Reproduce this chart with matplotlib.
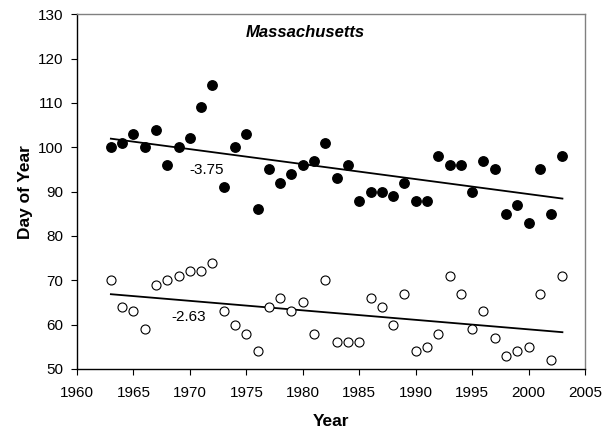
import numpy as np
import matplotlib
matplotlib.use('Agg')
import matplotlib.pyplot as plt
plt.rcParams['font.family'] = 'Liberation Sans'

years = list(range(1963, 2004))
# filled circles (upper series)
upper = [100, 101, 103, 100, 104, 96, 100, 102, 109, 114,
         91, 100, 103, 86, 95, 92, 94, 96, 97, 101,
         93, 96, 88, 90, 90, 89, 92, 88, 88, 98,
         96, 96, 90, 97, 95, 85, 87, 83, 95, 85, 98]
# open circles (lower series)
lower = [70, 64, 63, 59, 69, 70, 71, 72, 72, 74,
         63, 60, 58, 54, 64, 66, 63, 65, 58, 70,
         56, 56, 56, 66, 64, 60, 67, 54, 55, 58,
         71, 67, 59, 63, 57, 53, 54, 55, 67, 52, 71]
upper_label = '-3.75'
lower_label = '-2.63'

yrs = np.array(years, dtype=float)

fig = plt.figure(figsize=(6.05, 4.32), dpi=100)
ax = fig.add_axes([77/605, 1-369/432, (585-77)/605, (369-14.3)/432])

ax.plot(yrs, upper, 'o', color='black', markersize=6.8, zorder=3)
ax.plot(yrs, lower, 'o', markerfacecolor='white', markeredgecolor='black',
        markersize=6.5, markeredgewidth=0.8, zorder=3)

# trend lines
for vals in [upper, lower]:
    b, a = np.polyfit(yrs, vals, 1)
    xs = np.array([yrs[0], yrs[-1]])
    ax.plot(xs, a + b*xs, color='black', linewidth=1.3, zorder=2)

ax.text(1971.5, 94.9, upper_label, fontsize=11, ha='center', va='center')
ax.text(1969.9, 61.7, lower_label, fontsize=11, ha='center', va='center')
ax.text(1980.2, 125.8, 'Massachusetts', fontsize=12, fontweight='bold',
        fontstyle='italic', ha='center', va='center')

ax.set_xlim(1960, 2005)
ax.set_ylim(50, 130)
ax.set_xticks(range(1960, 2006, 5))
ax.set_yticks(range(50, 131, 10))
ax.tick_params(direction='out', length=4, width=0.8, labelsize=11)
ax.tick_params(axis='x', pad=8)
ax.tick_params(axis='y', pad=6)
for s in ['top', 'right']:
    ax.spines[s].set_color('#808080')
    ax.spines[s].set_linewidth(1.0)
for s in ['left', 'bottom']:
    ax.spines[s].set_linewidth(1.0)

ax.set_xlabel('Year', fontsize=12.5, fontweight='bold', labelpad=10)
ax.set_ylabel('Day of Year', fontsize=12.5, fontweight='bold', labelpad=3)

fig.savefig('out.png', dpi=100)
